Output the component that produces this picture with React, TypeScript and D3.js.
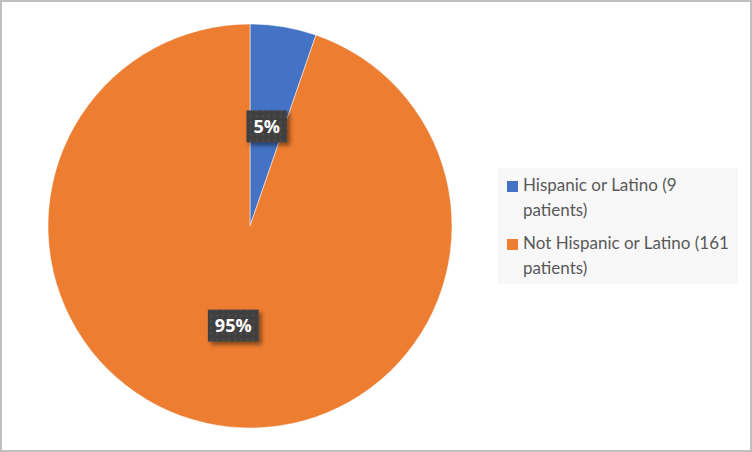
import { useRef, useEffect } from 'react'
import * as d3 from 'd3'

// chart data
const categories = ['Hispanic or Latino (9 patients)', 'Not Hispanic or Latino (161 patients)']
const legendLines = [['Hispanic or Latino (9', 'patients)'], ['Not Hispanic or Latino (161', 'patients)']]
const patients = [9, 161]
const sliceColors = ['#4472C4', '#ED7D31']

const W = 752
const H = 452

const App = () => {
  const svgRef = useRef<SVGSVGElement>(null)

  useEffect(() => {
    const svg = d3.select(svgRef.current)
    svg.selectAll('*').remove()

    const defs = svg.append('defs')
    const pat = defs.append('pattern')
      .attr('id', 'dots')
      .attr('width', 6).attr('height', 6)
      .attr('patternUnits', 'userSpaceOnUse')
    pat.append('rect').attr('width', 6).attr('height', 6).attr('fill', '#404040')
    pat.append('rect').attr('x', 1).attr('y', 1).attr('width', 2).attr('height', 2).attr('fill', '#4e4e4e')
    pat.append('rect').attr('x', 4).attr('y', 4).attr('width', 1).attr('height', 1).attr('fill', '#383838')

    const shadow = defs.append('filter').attr('id', 'shadow')
      .attr('x', '-30%').attr('y', '-30%').attr('width', '170%').attr('height', '170%')
    shadow.append('feDropShadow')
      .attr('dx', 3).attr('dy', 3).attr('stdDeviation', 2)
      .attr('flood-color', '#000').attr('flood-opacity', 0.45)

    // frame
    svg.append('rect')
      .attr('x', 1).attr('y', 1).attr('width', W - 2).attr('height', H - 2)
      .attr('fill', '#fff').attr('stroke', '#bfbfbf').attr('stroke-width', 2)

    const cx = 250, cy = 226, R = 202
    const total = d3.sum(patients)
    const pie = d3.pie<number>().sort(null).value(d => d)
    const arcs = pie(patients)
    const arc = d3.arc<d3.PieArcDatum<number>>().innerRadius(0).outerRadius(R)
    const color = d3.scaleOrdinal<string, string>().domain(categories).range(sliceColors)
    const pct = d3.format('.0%')

    const g = svg.append('g').attr('transform', `translate(${cx},${cy})`)
    g.selectAll('path.slice')
      .data(arcs)
      .join('path')
      .attr('class', 'slice')
      .attr('d', arc)
      .attr('fill', (d, i) => color(categories[i]))
      .attr('stroke', '#fff')
      .attr('stroke-width', 0.5)

    // data labels
    const labels = g.selectAll('g.lbl')
      .data(arcs)
      .join('g')
      .attr('class', 'lbl')
      .attr('transform', d => `translate(${arc.centroid(d)})`)

    labels.each(function (d) {
      const lg = d3.select(this)
      const t = lg.append('text')
        .attr('text-anchor', 'middle')
        .attr('dy', '0.36em')
        .attr('font-family', '"Open Sans", sans-serif')
        .attr('font-weight', 700)
        .attr('font-size', 18)
        .attr('fill', '#fff')
        .text(pct(d.value / total))
      const bb = (t.node() as SVGTextElement).getBBox()
      const padX = 7
      const bw = bb.width + padX * 2
      const bh = 32
      lg.insert('rect', 'text')
        .attr('x', -bw / 2).attr('y', -bh / 2)
        .attr('width', bw).attr('height', bh)
        .attr('fill', 'url(#dots)')
        .attr('filter', 'url(#shadow)')
    })

    // legend
    const legend = svg.append('g')
    legend.append('rect')
      .attr('x', 498).attr('y', 168).attr('width', 240).attr('height', 116)
      .attr('fill', '#f8f8f8')

    const item = legend.selectAll('g.item')
      .data(categories)
      .join('g')
      .attr('class', 'item')
      .attr('transform', (d, i) => `translate(507,${181 + i * 58})`)
    item.append('rect')
      .attr('width', 11).attr('height', 11)
      .attr('fill', d => color(d))
    item.append('text')
      .attr('font-family', 'Lato, sans-serif')
      .attr('font-size', 17)
      .attr('fill', '#595959')
      .selectAll('tspan')
      .data((d, i) => legendLines[i])
      .join('tspan')
      .attr('x', 16)
      .attr('y', (l, j) => 10 + j * 25)
      .text(l => l)
  }, [])

  return (
    <svg
      ref={svgRef}
      width={W}
      height={H}
      style={{ position: 'absolute', left: 0, top: 0 }}
    />
  )
}

export default App
